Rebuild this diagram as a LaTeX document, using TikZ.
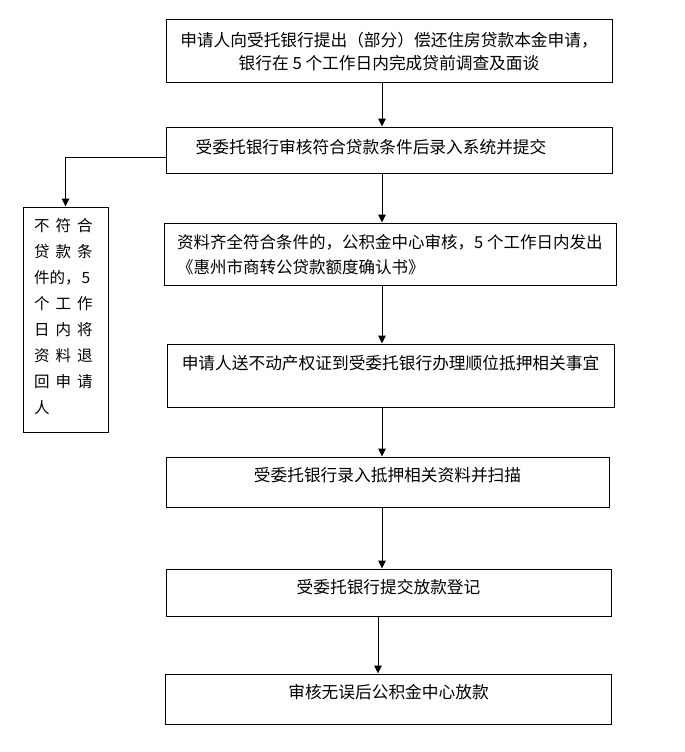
\documentclass[tikz,border=0pt]{standalone}
\usepackage{fontspec}
\newfontfamily\cjk{Noto Sans CJK SC}
\usetikzlibrary{arrows.meta}
\tikzset{
  stepbox/.style={draw,line width=1pt,inner sep=0pt},
  steptext/.style={font=\cjk\fontsize{16.7}{23}\selectfont,inner sep=0pt},
  flow/.style={line width=1pt,-{Triangle[length=8pt,width=7.5pt]}}
}
\begin{document}
\begin{tikzpicture}[x=1pt,y=-1pt]
    \useasboundingbox (0,0) rectangle (685,752);
    \node[stepbox,minimum width=446pt,minimum height=62pt] (apply) at (389,51) {};
    \node[stepbox,minimum width=446pt,minimum height=46pt] (enter) at (389,150) {};
    \node[stepbox,minimum width=452pt,minimum height=62pt] (confirm) at (390,254) {};
    \node[stepbox,minimum width=447pt,minimum height=63pt] (mortgage) at (390.5,375.5) {};
    \node[stepbox,minimum width=443pt,minimum height=50pt] (scan) at (387.5,482) {};
    \node[stepbox,minimum width=445pt,minimum height=47pt] (register) at (388.5,592.5) {};
    \node[stepbox,minimum width=446pt,minimum height=50pt] (release) at (388,699) {};
    \node[stepbox,minimum width=85pt,minimum height=225pt] (reject) at (65.5,319.5) {};

    \node[steptext,align=center] (applytext) at (389,51.5) {申请人向受托银行提出（部分）偿还住房贷款本金申请，\\银行在 5 个工作日内完成贷前调查及面谈};
    \node[steptext] (entertext) at (371,147) {受委托银行审核符合贷款条件后录入系统并提交};
    \node[steptext,align=left,anchor=west,font=\cjk\fontsize{16.5}{25}\selectfont] (confirmtext) at (177,254.5) {资料齐全符合条件的，公积金中心审核，5 个工作日内发出\\《惠州市商转公贷款额度确认书》};
    \node[steptext] (mortgagetext) at (390.5,363) {申请人送不动产权证到受委托银行办理顺位抵押相关事宜};
    \node[steptext] (scantext) at (387.5,475) {受委托银行录入抵押相关资料并扫描};
    \node[steptext] (registertext) at (388.5,587) {受委托银行提交放款登记};
    \node[steptext] (releasetext) at (388.5,692) {审核无误后公积金中心放款};
    \node[steptext,align=left,anchor=west,font=\cjk\fontsize{15.5}{26}\selectfont] (rejecttext) at (34,317) {%
        不\hspace{6pt}符\hspace{6pt}合\\
        贷\hspace{6pt}款\hspace{6pt}条\\
        件的，\hspace{1pt}5\\
        个\hspace{6pt}工\hspace{6pt}作\\
        日\hspace{6pt}内\hspace{6pt}将\\
        资\hspace{6pt}料\hspace{6pt}退\\
        回\hspace{6pt}申\hspace{6pt}请\\
        人};

    \coordinate (spine) at (382,0);
    \coordinate (drop) at (378,0);
    \draw[flow] (apply.south -| spine) -- (enter.north -| spine);
    \draw[flow] (enter.south -| spine) -- (confirm.north -| spine);
    \draw[flow] (confirm.south -| spine) -- (mortgage.north -| spine);
    \draw[flow] (mortgage.south -| spine) -- (scan.north -| spine);
    \draw[flow] (scan.south -| spine) -- (register.north -| spine);
    \draw[flow] (register.south -| drop) -- (release.north -| drop);
    \draw[flow] ([yshift=-7pt]enter.west) -| (reject.north);
\end{tikzpicture}
\end{document}
